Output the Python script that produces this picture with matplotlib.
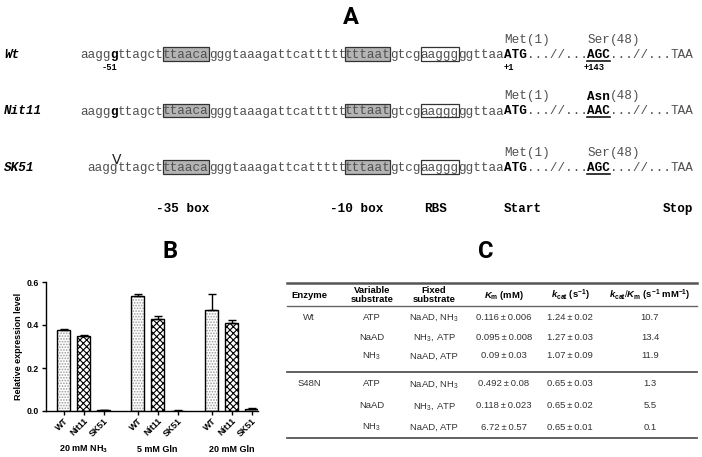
"""
Figura compuesta: secuencia del promotor (A), expresión relativa (B) y
parámetros cinéticos (C).
"""

import numpy as np
import matplotlib.pyplot as plt
from matplotlib.patches import Rectangle

plt.rcParams['mathtext.fontset'] = 'custom'
plt.rcParams['mathtext.rm'] = 'Liberation Sans'
plt.rcParams['mathtext.it'] = 'Liberation Sans:italic'
plt.rcParams['mathtext.bf'] = 'Liberation Sans:bold'
plt.rcParams['mathtext.bfit'] = 'Liberation Sans:italic:bold'
plt.rcParams['hatch.linewidth'] = 0.8

# ---------------- datos panel A ----------------
row_names = ["Wt", "Nit11", "SK51"]
seq_wt = [("aagg", "n"), ("g", "b"), ("ttagct", "n"), ("ttaaca", "gray"),
          ("gggtaaagattcattttt", "n"), ("tttaat", "gray"), ("gtcg", "n"),
          ("aaggg", "box"), ("ggttaa", "n"), ("ATG", "b"), ("...//...", "n"),
          ("AGC", "bu"), ("...//...", "n"), ("TAA", "n")]
seq_nit11 = [("aagg", "n"), ("g", "b"), ("ttagct", "n"), ("ttaaca", "gray"),
             ("gggtaaagattcattttt", "n"), ("tttaat", "gray"), ("gtcg", "n"),
             ("aaggg", "box"), ("ggttaa", "n"), ("ATG", "b"), ("...//...", "n"),
             ("AAC", "bu"), ("...//...", "n"), ("TAA", "n")]
seq_sk51 = [("aagg", "n"), ("ttagct", "n"), ("ttaaca", "gray"),
            ("gggtaaagattcattttt", "n"), ("tttaat", "gray"), ("gtcg", "n"),
            ("aaggg", "box"), ("ggttaa", "n"), ("ATG", "b"), ("...//...", "n"),
            ("AGC", "bu"), ("...//...", "n"), ("TAA", "n")]
sequences = [seq_wt, seq_nit11, seq_sk51]
row_start_col = [0, 0, 1]
aa48 = ["Ser", "Asn", "Ser"]
aa48_bold = [False, True, False]
feature_labels = ["-35 box", "-10 box", "RBS", "Start", "Stop"]
feature_cols = [10, 33, 45.5, 56, 77]
numbering = ["-51", "+1", "+143"]
numbering_cols = [2.8, 56, 66.5]

# ---------------- datos panel B ----------------
conditions = [r"20 mM NH$_\mathbf{3}$", "5 mM Gln", "20 mM Gln"]
strains = ["WT", "Nit11", "SK51"]
expr = np.array([[0.375, 0.348, 0.004],
                 [0.533, 0.428, 0.002],
                 [0.470, 0.410, 0.010]])
expr_err = np.array([[0.006, 0.006, 0.001],
                     [0.010, 0.012, 0.001],
                     [0.072, 0.014, 0.003]])

# ---------------- datos panel C ----------------
col_heads = ["Enzyme", "Variable\nsubstrate", "Fixed\nsubstrate",
             r"$\mathbfit{K}_{\mathbf{m}}$ (mM)",
             r"$\mathbfit{k}_{\mathbf{cat}}$ (s$^{\mathbf{-1}}$)",
             r"$\mathbfit{k}_{\mathbf{cat}}/\mathbfit{K}_{\mathbf{m}}$ (s$^{\mathbf{-1}}$ mM$^{\mathbf{-1}}$)"]
enzyme = ["Wt", "", "", "S48N", "", ""]
variable = ["ATP", "NaAD", "NH$_3$", "ATP", "NaAD", "NH$_3$"]
fixed = ["NaAD, NH$_3$", "NH$_3$, ATP", "NaAD, ATP",
         "NaAD, NH$_3$", "NH$_3$, ATP", "NaAD, ATP"]
km = ["0.116\u2009±\u20090.006", "0.095\u2009±\u20090.008", "0.09\u2009±\u20090.03",
      "0.492\u2009±\u20090.08", "0.118\u2009±\u20090.023", "6.72\u2009±\u20090.57"]
kcat = ["1.24\u2009±\u20090.02", "1.27\u2009±\u20090.03", "1.07\u2009±\u20090.09",
        "0.65\u2009±\u20090.03", "0.65\u2009±\u20090.02", "0.65\u2009±\u20090.01"]
ratio = ["10.7", "13.4", "11.9", "1.3", "5.5", "0.1"]

W, H = 702, 457
fig = plt.figure(figsize=(W / 100, H / 100), dpi=100)

# capa en píxeles para A y C
ax0 = fig.add_axes([0, 0, 1, 1])
ax0.set_xlim(0, W)
ax0.set_ylim(H, 0)
ax0.axis('off')

MONO = 'Liberation Mono'
SANS = ['Liberation Sans', 'DejaVu Sans']
X0, CW, FS = 80, 7.57, 9.1
SEQ_COL = '#505050'
row_base = [58, 114.5, 171]

ax0.text(351, 17, "A", ha='center', va='center', fontsize=17,
         fontweight='bold', family='Roboto')

for r, segs in enumerate(sequences):
    yb = row_base[r]
    ax0.text(4, yb, row_names[r], family=MONO, fontsize=FS, fontweight='bold',
             style='italic', va='baseline', ha='left')
    col = row_start_col[r]
    for txt, kind in segs:
        x = X0 + col * CW
        bold = kind in ('b', 'bu')
        ax0.text(x, yb, txt, family=MONO, fontsize=FS, va='baseline', ha='left',
                 fontweight='bold' if bold else 'normal',
                 color='black' if bold else SEQ_COL)
        if kind in ('gray', 'box'):
            ax0.add_patch(Rectangle((x, yb - 10.7), len(txt) * CW, 13.4,
                                    facecolor='#b4b4b4' if kind == 'gray' else 'none',
                                    edgecolor='#333333', lw=0.9,
                                    zorder=0 if kind == 'gray' else 3))
        if kind == 'bu':
            ax0.plot([x, x + len(txt) * CW], [yb + 2.5, yb + 2.5],
                     color='black', lw=1.1)
        col += len(txt)
    # etiquetas de aminoácidos
    ax0.text(X0 + 56 * CW, yb - 15, "Met(1)", family=MONO, fontsize=FS,
             va='baseline', ha='left', color=SEQ_COL)
    ax0.text(X0 + 67 * CW, yb - 15, aa48[r], family=MONO, fontsize=FS,
             va='baseline', ha='left',
             fontweight='bold' if aa48_bold[r] else 'normal',
             color='black' if aa48_bold[r] else SEQ_COL)
    ax0.text(X0 + 70 * CW, yb - 15, "(48)", family=MONO, fontsize=FS,
             va='baseline', ha='left', color=SEQ_COL)

for lab, c in zip(numbering, numbering_cols):
    ax0.text(X0 + c * CW, row_base[0] + 12, lab, family=MONO, fontsize=6.3,
             fontweight='bold', va='baseline', ha='left')

# marca de deleción en SK51
ax0.text(X0 + 4.9 * CW, row_base[2] - 7, "V", fontsize=10,
         family='DejaVu Sans', ha='center', va='baseline', color='#222222')

for lab, c in zip(feature_labels, feature_cols):
    ax0.text(X0 + c * CW, 211.7, lab, family=MONO, fontsize=FS,
             fontweight='bold', va='baseline', ha='left')

# ---------------- panel B ----------------
ax0.text(170, 251, "B", ha='center', va='center', fontsize=17,
         fontweight='bold', family='Roboto')

axB = fig.add_axes([46 / W, 1 - 411 / H, 212 / W, 129 / H])
group_step, bar_w = 3.7, 0.68
hatches = ['......', 'xxxxx', '......']
hatch_cols = ['#9a9a9a', 'black', '#9a9a9a']
xpos, xlabels = [], []
for g in range(len(conditions)):
    for s in range(len(strains)):
        xx = g * group_step + s
        xpos.append(xx)
        xlabels.append(strains[s])
        axB.bar(xx, expr[g, s], width=bar_w, color='white',
                edgecolor=hatch_cols[s], hatch=hatches[s], linewidth=0, zorder=2)
        axB.bar(xx, expr[g, s], width=bar_w, color='none',
                edgecolor='black', linewidth=1.0, zorder=3)
        axB.errorbar(xx, expr[g, s], yerr=[[0], [expr_err[g, s]]], color='black',
                     capsize=3, elinewidth=1.0, capthick=1.0, zorder=4)
    axB.text(g * group_step + 1, -0.30, conditions[g], transform=axB.get_xaxis_transform(),
             ha='center', va='center', fontsize=6.5, fontweight='bold',
             family='Liberation Sans')

axB.set_xlim(-0.875, 9.725)
axB.set_ylim(0, 0.6)
axB.set_yticks([0.0, 0.2, 0.4, 0.6])
axB.set_yticklabels(["0.0", "0.2", "0.4", "0.6"])
axB.set_xticks(xpos)
axB.set_xticklabels(xlabels, rotation=45, ha='right', rotation_mode='anchor')
for lab in axB.get_xticklabels() + axB.get_yticklabels():
    lab.set_fontweight('bold')
    lab.set_fontsize(6.3)
    lab.set_family('Liberation Sans')
axB.tick_params(axis='both', length=3, width=1, pad=2)
axB.tick_params(axis='x', pad=1)
axB.set_ylabel("Relative expression level", fontsize=6.5, fontweight='bold',
               family='Liberation Sans', labelpad=3)
for sp in ['top', 'right']:
    axB.spines[sp].set_visible(False)
for sp in ['left', 'bottom']:
    axB.spines[sp].set_linewidth(1.0)

# ---------------- panel C ----------------
ax0.text(486, 251, "C", ha='center', va='center', fontsize=17,
         fontweight='bold', family='Roboto')

col_x = [309, 372, 434, 504, 570, 650]
TL, TR = 287, 697
TAB_COL = '#333333'
ax0.plot([TL, TR], [283, 283], color='#555555', lw=1.8)
ax0.plot([TL, TR], [306, 306], color='#666666', lw=1.0)
ax0.plot([TL, TR], [371.5, 371.5], color='#555555', lw=1.3)
ax0.plot([TL, TR], [438, 438], color='#555555', lw=1.3)
for x, head in zip(col_x, col_heads):
    ax0.text(x, 295, head, ha='center', va='center', fontsize=6.8,
             fontweight='bold', family='Liberation Sans', linespacing=1.0)

row_y = [317, 337, 356, 384, 405.5, 427]
for i, y in enumerate(row_y):
    for x, val in zip(col_x, [enzyme[i], variable[i], fixed[i], km[i], kcat[i], ratio[i]]):
        ax0.text(x, y, val, ha='center', va='center', fontsize=6.8,
                 family=SANS, color=TAB_COL)

fig.savefig("out.png", dpi=100)
